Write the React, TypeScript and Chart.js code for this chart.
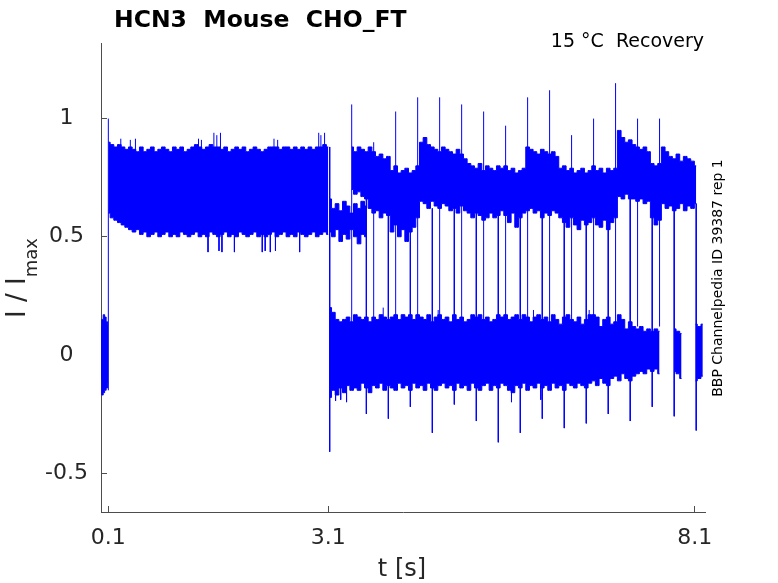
import React, { useEffect, useRef } from 'react';
import { Chart, registerables } from 'chart.js';

Chart.register(...registerables);

const BLUE = '#0000ff';
const AXIS = '#4d4d4d';
const INK = '#262626';
const FONT = 'DejaVu Sans';

const TITLE = 'HCN3  Mouse  CHO_FT';
const SUBTITLE = '15 °C  Recovery';
const SIDE_NOTE = 'BBP Channelpedia ID 39387 rep 1';

const xTicks = [0.1, 3.1, 8.1];
const yTicks = [-0.5, 0, 0.5, 1];

// band envelopes are sampled every STEP seconds (max / min of the noisy trace)
const STEP = 0.05;

// holding current before the first pulse, 0 - 0.1 s
const preStart = 0.0;
const preStep = 0.02;
const preHigh = [0.12, 0.15, 0.17, 0.16, 0.14, 0.13];
const preLow = [-0.1, -0.17, -0.16, -0.15, -0.14, -0.12];

// first pulse, 0.1 - 3.1 s
const pulseStart = 0.1;
const pulseHigh = [
  0.90, 0.89, 0.88, 0.89, 0.88, 0.87, 0.88, 0.87, 0.86, 0.88,
  0.86, 0.87, 0.88, 0.86, 0.87, 0.88, 0.87, 0.86, 0.88, 0.87,
  0.88, 0.86, 0.87, 0.88, 0.89, 0.88, 0.87, 0.88, 0.89, 0.88,
  0.88, 0.87, 0.88, 0.86, 0.87, 0.88, 0.87, 0.88, 0.86, 0.87,
  0.88, 0.87, 0.86, 0.87, 0.88, 0.88, 0.88, 0.87, 0.88, 0.88,
  0.87, 0.88, 0.87, 0.88, 0.87, 0.88, 0.87, 0.88, 0.88, 0.89,
  0.88,
];
const pulseLow = [
  0.60, 0.58, 0.57, 0.56, 0.55, 0.54, 0.53, 0.52, 0.53, 0.51,
  0.52, 0.50, 0.51, 0.52, 0.50, 0.51, 0.52, 0.50, 0.51, 0.50,
  0.52, 0.51, 0.50, 0.51, 0.52, 0.50, 0.51, 0.50, 0.52, 0.51,
  0.50, 0.51, 0.52, 0.50, 0.51, 0.50, 0.52, 0.51, 0.50, 0.51,
  0.52, 0.50, 0.51, 0.50, 0.51, 0.52, 0.50, 0.51, 0.52, 0.50,
  0.51, 0.50, 0.52, 0.51, 0.50, 0.51, 0.52, 0.50, 0.51, 0.52,
  0.51,
];

// sweeps still conducting right after the pulse, 3.12 - 3.62 s
const midStart = 3.12;
const midHigh = [0.66, 0.62, 0.64, 0.61, 0.65, 0.63, 0.60, 0.64, 0.62, 0.65, 0.63];
const midLow = [0.52, 0.50, 0.53, 0.48, 0.51, 0.49, 0.53, 0.50, 0.47, 0.51, 0.50];

// baseline between test pulses, 3.12 - 7.62 s
const baseStart = 3.12;
const baseHigh = [
  0.20, 0.18, 0.15, 0.14, 0.15, 0.16, 0.14, 0.17, 0.16, 0.15,
  0.16, 0.14, 0.16, 0.15, 0.17, 0.16, 0.15, 0.16, 0.17, 0.15,
  0.17, 0.16, 0.17, 0.15, 0.17, 0.16, 0.15, 0.17, 0.14, 0.16,
  0.17, 0.15, 0.16, 0.14, 0.17, 0.15, 0.16, 0.14, 0.15, 0.17,
  0.16, 0.17, 0.15, 0.16, 0.14, 0.15, 0.17, 0.16, 0.17, 0.15,
  0.16, 0.17, 0.15, 0.17, 0.16, 0.14, 0.16, 0.17, 0.15, 0.16,
  0.14, 0.17, 0.15, 0.13, 0.16, 0.17, 0.15, 0.14, 0.16, 0.13,
  0.15, 0.17, 0.17, 0.16, 0.12, 0.15, 0.16, 0.13, 0.14, 0.17,
  0.15, 0.11, 0.14, 0.12, 0.11, 0.12, 0.10, 0.11, 0.10, 0.11,
  0.10,
];
const baseLow = [
  -0.18, -0.15, -0.17, -0.14, -0.16, -0.13, -0.15, -0.14, -0.15, -0.12,
  -0.14, -0.16, -0.13, -0.14, -0.12, -0.15, -0.13, -0.14, -0.15, -0.12,
  -0.14, -0.13, -0.15, -0.12, -0.14, -0.13, -0.15, -0.12, -0.14, -0.15,
  -0.13, -0.12, -0.14, -0.13, -0.15, -0.12, -0.14, -0.13, -0.15, -0.12,
  -0.14, -0.15, -0.13, -0.12, -0.15, -0.13, -0.14, -0.12, -0.13, -0.15,
  -0.16, -0.13, -0.14, -0.12, -0.15, -0.13, -0.14, -0.12, -0.14, -0.13,
  -0.15, -0.12, -0.14, -0.13, -0.15, -0.12, -0.13, -0.14, -0.12, -0.13,
  -0.14, -0.12, -0.11, -0.13, -0.10, -0.12, -0.13, -0.10, -0.09, -0.11,
  -0.08, -0.10, -0.11, -0.09, -0.08, -0.07, -0.08, -0.06, -0.07, -0.06,
  -0.08,
];
const tailAStart = 7.82;
const tailAHigh = [0.11, 0.10, 0.09];
const tailALow = [-0.07, -0.08, -0.1];
const tailBStart = 8.11;
const tailBHigh = [0.13, 0.12, 0.13];
const tailBLow = [-0.11, -0.10, -0.09];

// test pulses, 3.42 - 8.12 s
const testStart = 3.42;
const testHigh = [
  0.88, 0.86, 0.88, 0.87, 0.86,
  0.88, 0.86, 0.84, 0.85, 0.83, 0.84,
  0.78, 0.80, 0.77, 0.78, 0.79, 0.77, 0.78, 0.80,
  0.90, 0.92, 0.89, 0.88, 0.87, 0.86, 0.88, 0.87, 0.86, 0.85, 0.87,
  0.85, 0.83, 0.81, 0.80, 0.79, 0.81, 0.78, 0.80, 0.79, 0.78, 0.80,
  0.79, 0.80, 0.78, 0.79, 0.77, 0.78, 0.79,
  0.88, 0.87, 0.86, 0.85, 0.87, 0.86, 0.85, 0.86, 0.84,
  0.79, 0.80, 0.78, 0.79, 0.77, 0.78, 0.79, 0.77, 0.78,
  0.80, 0.78, 0.79, 0.77, 0.79, 0.78, 0.79,
  0.95, 0.92, 0.90, 0.91,
  0.89, 0.88, 0.87, 0.88, 0.86,
  0.81, 0.80, 0.81,
  0.88, 0.86, 0.84, 0.83, 0.85, 0.82, 0.84, 0.83, 0.82, 0.80,
];
const testLow = [
  0.70, 0.68, 0.69, 0.67, 0.66,
  0.62, 0.60, 0.61, 0.58, 0.60, 0.59,
  0.52, 0.55, 0.50, 0.53, 0.48, 0.52, 0.54, 0.58,
  0.65, 0.64, 0.62, 0.65, 0.63, 0.62, 0.64, 0.63, 0.61, 0.62, 0.60,
  0.63, 0.61, 0.60, 0.58, 0.60, 0.59, 0.57, 0.58, 0.60, 0.58, 0.59,
  0.61, 0.59, 0.56, 0.60, 0.54, 0.58, 0.60,
  0.61, 0.62, 0.60, 0.61, 0.58, 0.60, 0.59, 0.61, 0.60,
  0.58, 0.56, 0.54, 0.58, 0.55, 0.53, 0.57, 0.55, 0.56,
  0.58, 0.55, 0.54, 0.57, 0.53, 0.56, 0.58,
  0.67, 0.66, 0.68, 0.66,
  0.66, 0.65, 0.66, 0.64, 0.65,
  0.58, 0.55, 0.57,
  0.64, 0.62, 0.63, 0.61, 0.62, 0.64, 0.61, 0.63, 0.62, 0.64,
];

// voltage steps at 0.1 s and 3.1 s
const stepTimes = [0.1, 3.12];
const stepFrom = [-0.15, 0.88];
const stepTo = [1.0, -0.41];

// test pulse onsets (capacitive peaks) and offsets (tail troughs)
const onsetTimes = [3.42, 3.72, 4.02, 4.32, 4.62, 4.92, 5.22, 5.52, 5.82, 6.12, 6.42, 6.72, 7.02, 7.32, 7.62];
const onsetBase = [0.12, 0.12, 0.12, 0.12, 0.12, 0.12, 0.12, 0.12, 0.12, 0.12, 0.12, 0.12, 0.12, 0.12, 0.12];
const onsetPeaks = [1.06, 0.9, 1.03, 1.09, 1.09, 1.06, 1.03, 0.97, 1.09, 1.12, 0.93, 1.0, 1.15, 1.0, 1.0];
const offsetTimes = [3.62, 3.92, 4.22, 4.52, 4.82, 5.12, 5.42, 5.72, 6.02, 6.32, 6.62, 6.92, 7.22, 7.52, 7.82, 8.12];
const offsetTop = [0.68, 0.6, 0.56, 0.62, 0.62, 0.6, 0.59, 0.6, 0.6, 0.56, 0.56, 0.58, 0.66, 0.64, 0.62, 0.64];
const offsetTroughs = [-0.25, -0.27, -0.22, -0.33, -0.21, -0.28, -0.37, -0.33, -0.27, -0.31, -0.29, -0.25, -0.28, -0.22, -0.26, -0.32];

// isolated noise excursions outside the envelopes
const noiseTimes = [
  0.27, 0.4, 0.47, 1.33, 1.37, 1.54, 1.58, 1.63, 2.36, 2.41, 2.97, 3.0, 3.05,
  1.46, 1.61, 1.65, 1.82, 2.2, 2.24, 2.31, 2.38, 2.71,
  3.85, 4.6, 5.9, 6.66, 3.2, 3.27, 3.35, 5.6, 6.0,
];
const noiseFrom = [
  0.86, 0.86, 0.86, 0.86, 0.86, 0.86, 0.86, 0.86, 0.86, 0.86, 0.86, 0.86, 0.86,
  0.52, 0.52, 0.52, 0.52, 0.52, 0.52, 0.52, 0.52, 0.52,
  0.14, 0.14, 0.14, 0.14, -0.13, -0.13, -0.13, -0.13, -0.13,
];
const noiseTo = [
  0.915, 0.91, 0.915, 0.915, 0.91, 0.94, 0.93, 0.94, 0.915, 0.91, 0.94, 0.93, 0.94,
  0.435, 0.44, 0.435, 0.435, 0.435, 0.44, 0.435, 0.44, 0.435,
  0.2, 0.19, 0.19, 0.19, -0.195, -0.19, -0.2, -0.2, -0.19,
];

const trace = (label: string, data: any[], extra: any = {}) => ({
  label,
  data,
  borderColor: BLUE,
  backgroundColor: BLUE,
  borderWidth: 1,
  pointRadius: 0,
  fill: false,
  ...extra,
});

const band = (name: string, start: number, step: number, hi: number[], lo: number[]) => {
  const n = Math.min(hi.length, lo.length);
  const pts = (v: number[]) => v.slice(0, n).map((y, i) => ({ x: +(start + i * step).toFixed(3), y }));
  return [
    trace(name + ' max', pts(hi), { fill: '+1', stepped: 'middle' }),
    trace(name + ' min', pts(lo), { stepped: 'middle' }),
  ];
};

const segments = (name: string, t: number[], from: number[], to: number[]) =>
  trace(
    name,
    t.flatMap((x, i) => [
      { x, y: from[i] },
      { x, y: to[i] },
      { x, y: null },
    ]),
  );

const textPlugin = {
  id: 'figureText',
  afterDraw(chart: any) {
    const { ctx } = chart;
    ctx.save();
    ctx.textBaseline = 'alphabetic';

    ctx.fillStyle = '#000';
    ctx.font = `bold 23.5px "${FONT}"`;
    ctx.textAlign = 'left';
    ctx.fillText(TITLE, 114, 27);

    ctx.font = `19px "${FONT}"`;
    ctx.textAlign = 'right';
    ctx.fillText(SUBTITLE, 704, 47);

    ctx.fillStyle = INK;
    ctx.font = `24px "${FONT}"`;
    ctx.textAlign = 'center';
    ctx.fillText('t [s]', 402, 576);

    // y label with subscript
    ctx.save();
    ctx.translate(25, 278);
    ctx.rotate(-Math.PI / 2);
    ctx.textAlign = 'left';
    ctx.font = `26px "${FONT}"`;
    const main = 'I / I';
    const w1 = ctx.measureText(main).width;
    ctx.font = `18px "${FONT}"`;
    const w2 = ctx.measureText('max').width;
    const x0 = -(w1 + w2) / 2;
    ctx.font = `26px "${FONT}"`;
    ctx.fillText(main, x0, 0);
    ctx.font = `18px "${FONT}"`;
    ctx.fillText('max', x0 + w1, 12);
    ctx.restore();

    // side note
    ctx.save();
    ctx.translate(722, 278);
    ctx.rotate(-Math.PI / 2);
    ctx.fillStyle = '#000';
    ctx.font = `14px "${FONT}"`;
    ctx.textAlign = 'center';
    ctx.fillText(SIDE_NOTE, 0, 0);
    ctx.restore();

    ctx.restore();
  },
};

const App: React.FC = () => {
  const canvasRef = useRef<HTMLCanvasElement | null>(null);

  useEffect(() => {
    if (!canvasRef.current) return;

    const tickFont = { family: FONT, size: 22 };

    const chart = new Chart(canvasRef.current, {
      type: 'line',
      data: {
        datasets: [
          ...band('holding', preStart, preStep, preHigh, preLow),
          ...band('pulse', pulseStart, STEP, pulseHigh, pulseLow),
          ...band('after pulse', midStart, STEP, midHigh, midLow),
          ...band('baseline', baseStart, STEP, baseHigh, baseLow),
          ...band('tail a', tailAStart, STEP, tailAHigh, tailALow),
          ...band('tail b', tailBStart, STEP, tailBHigh, tailBLow),
          ...band('test pulses', testStart, STEP, testHigh, testLow),
          segments('steps', stepTimes, stepFrom, stepTo),
          segments('onsets', onsetTimes, onsetBase, onsetPeaks),
          segments('offsets', offsetTimes, offsetTop, offsetTroughs),
          segments('noise', noiseTimes, noiseFrom, noiseTo),
        ] as any,
      },
      options: {
        animation: false,
        responsive: true,
        maintainAspectRatio: false,
        events: [],
        layout: { padding: { top: 43, right: 73, bottom: 0, left: 0 } },
        plugins: {
          legend: { display: false },
          tooltip: { enabled: false },
        },
        scales: {
          x: {
            type: 'linear',
            min: 0,
            max: 8.24,
            afterBuildTicks: (s: any) => {
              s.ticks = xTicks.map((value) => ({ value }));
            },
            afterFit: (s: any) => {
              s.height = 71;
            },
            grid: { display: true, drawOnChartArea: false, drawTicks: true, tickLength: -6, color: AXIS },
            border: { display: true, color: AXIS, width: 1 },
            ticks: {
              font: tickFont,
              color: INK,
              padding: 19,
              maxRotation: 0,
              autoSkip: false,
              callback: (v: any) => String(v),
            },
          },
          y: {
            type: 'linear',
            min: -0.665,
            max: 1.32,
            afterBuildTicks: (s: any) => {
              s.ticks = yTicks.map((value) => ({ value }));
            },
            afterFit: (s: any) => {
              s.width = 101;
            },
            grid: { display: true, drawOnChartArea: false, drawTicks: true, tickLength: -6, color: AXIS },
            border: { display: true, color: AXIS, width: 1 },
            ticks: {
              font: tickFont,
              color: INK,
              padding: 19,
              crossAlign: 'center',
              autoSkip: false,
              callback: (v: any) => String(v),
            },
          },
        },
      },
      plugins: [textPlugin],
    });

    return () => chart.destroy();
  }, []);

  return (
    <div style={{ position: 'fixed', left: 0, top: 0, width: '778px', height: '583px', background: '#fff' }}>
      <canvas ref={canvasRef} />
    </div>
  );
};

export default App;
